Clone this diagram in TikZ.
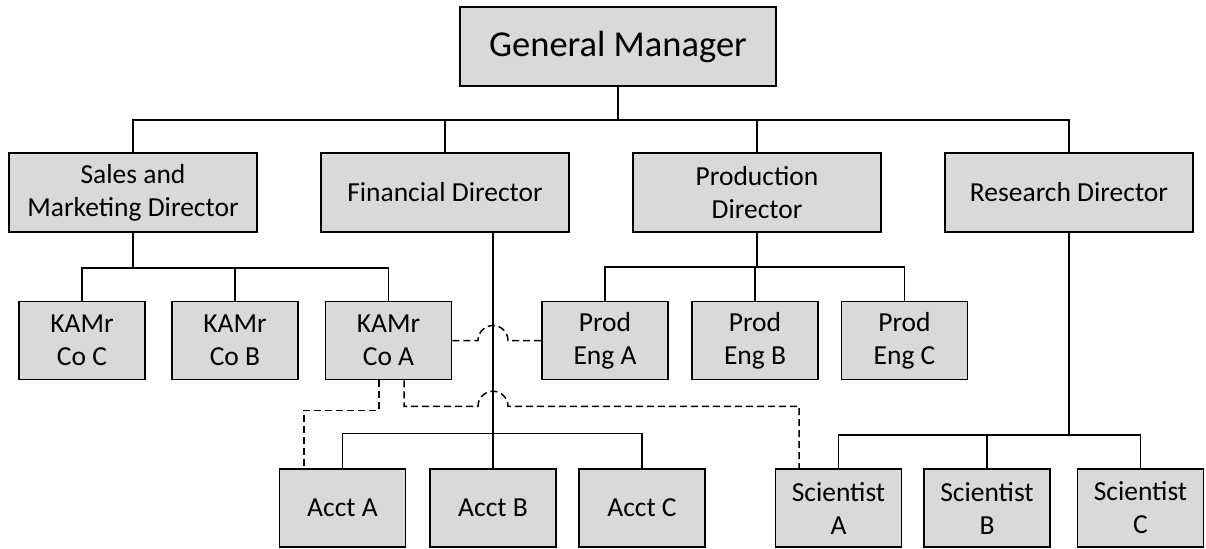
\documentclass[tikz,border=0pt]{standalone}
\usepackage{fontspec}
\setmainfont{Carlito}
\definecolor{boxgray}{RGB}{217,217,217}
\tikzset{
  org/.style={x=0.5pt, y=-0.5pt},
  box/.style={
    draw=black,
    fill=boxgray,
    line width=0.75pt,
    inner sep=0pt,
    align=center,
    minimum height=39pt,
    font=\fontsize{13.75}{16.5}\selectfont
  },
  box-top/.style={box, minimum width=158pt, minimum height=39.5pt, font=\fontsize{18.25}{22}\selectfont},
  box-dir/.style={box, minimum width=124pt, minimum height=39.5pt},
  box-staff/.style={box, minimum width=63pt},
  link/.style={draw=black, line width=0.75pt},
  link-dashed/.style={link, dash pattern=on 3.5pt off 2pt}
}

\begin{document}
\begin{tikzpicture}[org]
  \useasboundingbox (0,0) rectangle (1206,548);

  % top
  \node[box-top] (gm) at (618,46.5) {General Manager};

  % directors
  \node[box-dir] (sales) at (133,192.5) {Sales and\\Marketing Director};
  \node[box-dir] (fin) at (445,192.5) {Financial Director};
  \node[box-dir] (prod) at (757,192.5) {Production\\Director};
  \node[box-dir] (res) at (1069,192.5) {Research Director};

  % third row
  \node[box-staff] (kamc) at (82,340.5) {KAMr\\Co C};
  \node[box-staff] (kamb) at (235,340.5) {KAMr\\Co B};
  \node[box-staff] (kama) at (388.5,340.5) {KAMr\\Co A};
  \node[box-staff] (proda) at (605,340.5) {Prod\\Eng A};
  \node[box-staff] (prodb) at (755,340.5) {Prod\\Eng B};
  \node[box-staff] (prodc) at (904.5,340.5) {Prod\\Eng C};

  % bottom row
  \node[box-staff] (accta) at (342.5,508) {Acct A};
  \node[box-staff] (acctb) at (493,508) {Acct B};
  \node[box-staff] (acctc) at (642,508) {Acct C};
  \node[box-staff] (scia) at (838.5,508) {Scientist\\A};
  \node[box-staff] (scib) at (987,508) {Scientist\\B};
  \node[box-staff] (scic) at (1140.5,508) {Scientist\\C};

  % solid reporting lines
  \draw[link] (gm.south) -- ++(0,33) coordinate (gm-bus);
  \foreach \n in {sales,fin,prod,res}{
    \draw[link] (gm-bus) -| (\n.north);
  }
  \draw[link] (sales.south) -- ++(0,35) coordinate (sales-bus);
  \foreach \n in {kamc,kamb,kama}{
    \draw[link] (sales-bus) -| (\n.north);
  }
  \draw[link] (prod.south) -- ++(0,34) coordinate (prod-bus);
  \foreach \n in {proda,prodb,prodc}{
    \draw[link] (prod-bus) -| (\n.north);
  }
  \draw[link] (acctb.north |- fin.south) -- (acctb.north);
  \coordinate (acct-bus) at ([yshift=17.5pt]acctb.north);
  \foreach \n in {accta,acctc}{
    \draw[link] (acct-bus) -| (\n.north);
  }
  \draw[link] (res.south) -- ++(0,202) coordinate (res-bus);
  \foreach \n in {scia,scib,scic}{
    \draw[link] (res-bus) -| (\n.north);
  }

  % dashed links, hopping over the finance line
  \draw[link-dashed] (kama.east) -- ([xshift=-7.5pt]kama.east -| acctb.north)
    arc[start angle=180, end angle=0, radius=7.5pt] -- (proda.west);
  \draw[link-dashed] ([xshift=-4.75pt]kama.south) -- ++(0,30) -| ([xshift=-19.25pt]accta.north);
  \draw[link-dashed] ([xshift=7.75pt]kama.south) -- ++(0,26) coordinate (kama-hop)
    -- ([xshift=-7.5pt]kama-hop -| acctb.north)
    arc[start angle=180, end angle=0, radius=7.5pt]
    -| ([xshift=-19.75pt]scia.north);

\end{tikzpicture}
\end{document}
